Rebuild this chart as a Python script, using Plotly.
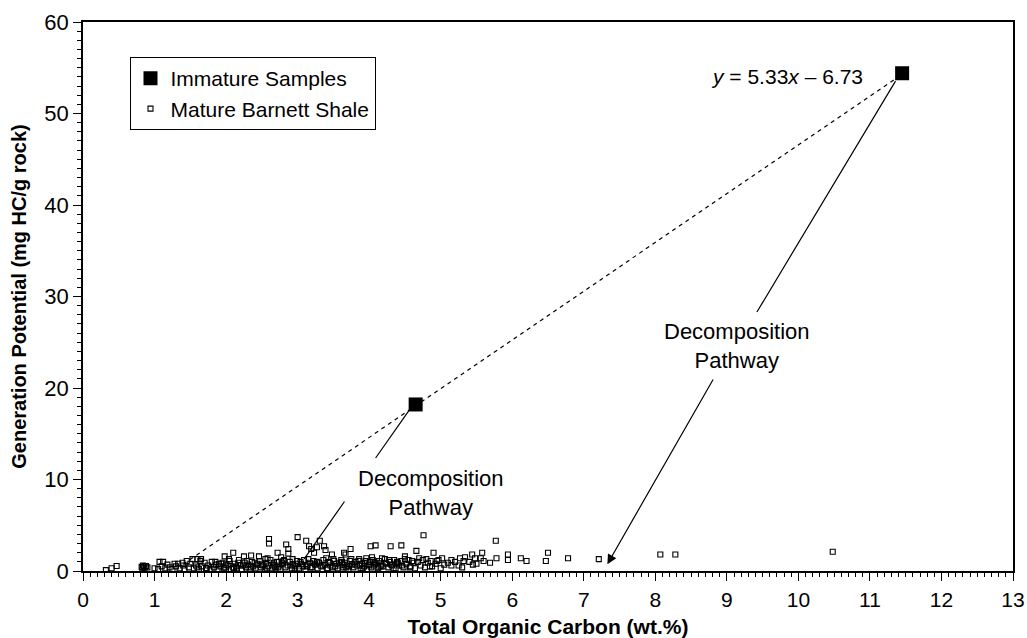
import plotly.graph_objects as go

# ---------------- data ----------------
immature_toc = [4.65, 11.45]
immature_gp = [18.2, 54.4]

mature_sparse_toc = [0.32, 0.40, 0.47, 0.82, 0.84, 0.86, 0.88, 0.85, 0.90, 0.83, 1.00, 1.07, 1.12, 1.21,
                     1.28, 1.33, 1.39, 1.45, 1.53, 1.60, 1.64, 1.65,
                     1.98, 2.10, 2.25, 2.35, 2.46, 2.58, 2.60, 2.60, 2.72, 2.77, 2.84, 2.87, 2.87, 3.00,
                     3.12, 3.16, 3.19, 3.23, 3.27, 3.31, 3.37, 3.39, 3.48, 3.65, 3.67, 3.74, 4.02, 4.09,
                     4.04, 4.30, 4.45, 4.50, 4.66, 4.76, 4.90, 5.02, 5.15, 5.27, 5.34, 5.32, 5.44, 5.48,
                     5.50, 5.56, 5.58, 5.69, 5.77, 5.78, 5.94, 5.94, 6.12, 6.20, 6.50, 6.47, 6.78, 7.21,
                     8.07, 8.28, 10.48]
mature_sparse_gp = [0.10, 0.30, 0.55, 0.45, 0.60, 0.35, 0.55, 0.50, 0.40, 0.30, 0.30, 1.00, 1.00, 0.40,
                    0.80, 0.80, 0.90, 1.10, 1.30, 1.30, 1.10, 1.30,
                    1.6, 2.0, 1.6, 1.7, 1.6, 1.4, 3.5, 3.0, 2.0, 1.5, 2.9, 2.4, 1.9, 3.7,
                    3.3, 2.7, 2.4, 2.0, 2.6, 3.3, 2.7, 2.3, 1.8, 2.0, 1.8, 2.4, 2.7, 2.8,
                    1.5, 2.7, 2.8, 1.6, 2.2, 3.9, 2.0, 1.4, 1.2, 1.4, 1.5, 1.1, 1.8, 1.4,
                    0.8, 1.4, 2.0, 0.9, 3.3, 1.4, 1.8, 1.2, 1.4, 1.1, 2.0, 1.1, 1.4, 1.3,
                    1.8, 1.8, 2.1]

mature_dense_toc = [1.05, 1.10, 1.15, 1.18, 1.25, 1.30, 1.35, 1.40, 1.42, 1.48, 1.50, 1.55, 1.58, 1.62,
                    1.66, 1.70, 1.72, 1.75, 1.78, 1.80, 1.83, 1.86, 1.88, 1.92, 1.95, 1.97, 2.02, 2.05,
                    2.07, 2.10, 2.12, 2.15, 2.18, 2.20, 2.22, 2.26, 2.28, 2.31, 2.33, 2.36, 2.38, 2.41,
                    2.44, 2.47, 2.49, 2.52, 2.54, 2.56, 2.59, 2.62, 2.64, 2.66, 2.69, 2.71, 2.74, 2.76,
                    2.79, 2.81, 2.83, 2.86, 2.89, 2.92, 2.94, 2.97, 2.99, 3.02, 3.05, 3.07, 3.09, 3.11,
                    3.14, 3.17, 3.20, 3.22, 3.25, 3.28, 3.30, 3.33, 3.36, 3.38, 3.41, 3.43, 3.46, 3.49,
                    3.51, 3.54, 3.56, 3.59, 3.61, 3.63, 3.66, 3.69, 3.71, 3.73, 3.76, 3.78, 3.81, 3.83,
                    3.86, 3.88, 3.90, 3.93, 3.95, 3.97, 3.99, 4.01, 4.03, 4.05, 4.07, 4.10, 4.12, 4.14,
                    4.17, 4.19, 4.22, 4.24, 4.27, 4.29, 4.32, 4.35, 4.37, 4.40, 4.42, 4.45, 4.48, 4.52,
                    4.55, 4.58, 4.62, 4.64, 4.68, 4.72, 4.75, 4.78, 4.82, 4.86, 4.88, 4.93, 4.97, 5.05,
                    5.10, 5.20, 5.25, 5.40, 5.60,
                    3.52, 3.58, 3.64, 3.72, 3.80, 3.87, 3.94, 4.00, 4.08, 4.16, 4.23, 4.31, 4.38, 4.46,
                    1.90, 2.00, 2.14, 2.24, 2.40, 2.50, 2.68, 2.78, 2.90, 3.00, 3.13, 3.24, 3.35, 3.45,
                    1.85, 1.93, 2.04, 2.17, 2.29, 2.43, 2.55, 2.67, 2.80, 2.93, 3.04, 3.15, 3.27, 3.40,
                    3.50, 3.62, 3.75, 3.85, 3.96, 4.06, 4.18, 4.28, 4.39, 4.50, 4.60, 4.70, 4.80, 4.95,
                    1.60, 1.73, 1.99, 2.11, 2.35, 2.57, 2.73, 2.96, 3.18, 3.42, 3.68, 3.91, 4.13, 4.34,
                    4.57, 4.85, 5.00, 5.15, 5.30, 5.45]
mature_dense_gp = [0.2, 0.5, 0.3, 0.7, 0.2, 0.5, 0.3, 0.6, 0.2, 0.4, 0.8, 0.3, 0.6, 0.2,
                   0.5, 0.9, 0.3, 0.6, 0.2, 1.0, 0.4, 0.7, 0.2, 0.5, 0.9, 0.3, 0.6, 1.1,
                   0.2, 0.4, 0.8, 0.3, 1.2, 0.6, 0.2, 0.9, 0.4, 0.7, 0.2, 1.0, 0.5, 0.3,
                   0.8, 1.1, 0.4, 0.6, 0.2, 0.9, 0.5, 1.2, 0.3, 0.7, 0.4, 1.0, 0.6, 0.2,
                   0.8, 1.2, 0.4, 0.6, 1.0, 0.3, 0.7, 0.5, 1.1, 0.3, 0.8, 0.5, 1.2, 0.2,
                   0.6, 0.9, 0.4, 1.1, 0.7, 0.3, 0.9, 0.5, 1.2, 0.7, 0.3, 1.0, 0.6, 0.4,
                   1.1, 0.8, 0.3, 0.6, 1.2, 0.4, 0.9, 0.6, 0.2, 1.1, 0.7, 0.4, 1.0, 0.6,
                   1.3, 0.3, 0.8, 0.5, 1.1, 0.2, 0.7, 1.0, 0.4, 1.2, 0.6, 0.9, 0.3, 1.1,
                   0.7, 0.5, 1.3, 0.8, 0.4, 1.0, 0.6, 1.2, 0.3, 0.9, 0.6, 1.1, 0.4, 0.8,
                   1.2, 0.5, 0.9, 0.3, 1.0, 0.6, 1.2, 0.4, 0.9, 1.1, 0.5, 0.8, 1.2, 0.7,
                   0.9, 1.0, 0.6, 1.0, 1.1,
                   0.5, 0.9, 0.7, 0.5, 0.8, 0.6, 0.9, 0.6, 0.8, 0.5, 0.9, 0.7, 0.8, 0.6,
                   0.8, 0.7, 0.5, 0.6, 0.9, 0.7, 0.5, 0.9, 0.6, 0.8, 0.5, 0.8, 0.6, 0.9,
                   1.0, 0.8, 1.3, 0.9, 1.1, 0.7, 1.3, 0.9, 1.1, 1.3, 1.0, 1.3, 1.0, 1.4,
                   1.3, 1.0, 1.3, 1.1, 1.4, 1.0, 1.4, 1.2, 1.0, 1.3, 1.1, 1.4, 1.3, 1.1,
                   0.4, 0.3, 0.4, 0.3, 0.4, 0.3, 0.4, 0.3, 0.4, 0.3, 0.4, 0.3, 0.4, 0.3,
                   0.4, 0.5, 0.3, 0.6, 0.4, 0.7]

mature_toc = mature_sparse_toc + mature_dense_toc
mature_gp = mature_sparse_gp + mature_dense_gp

fit_slope = 5.33
fit_intercept = -6.73
fit_x_range = [1.40, 11.45]

x_ticks = list(range(0, 14))
y_ticks = list(range(0, 61, 10))

# ---------------- figure ----------------
fig = go.Figure()

fit_x = fit_x_range
fit_y = [fit_slope * v + fit_intercept for v in fit_x]
fig.add_trace(go.Scatter(x=fit_x, y=fit_y, mode="lines", showlegend=False,
                         line=dict(color="black", width=1.2, dash="4px,4px"), hoverinfo="skip"))

fig.add_trace(go.Scatter(x=immature_toc, y=immature_gp, mode="markers", name="Immature Samples",
                         marker=dict(symbol="square", size=14, color="black",
                                     line=dict(color="black", width=0))))
fig.add_trace(go.Scatter(x=mature_toc, y=mature_gp, mode="markers", name="Mature Barnett Shale",
                         marker=dict(symbol="square-open", size=5, color="black",
                                     line=dict(color="black", width=1.1))))

def arrow(x0, y0, x1, y1, head):
    fig.add_annotation(x=x1, y=y1, ax=x0, ay=y0, xref="x", yref="y", axref="x", ayref="y",
                       text="", showarrow=True, arrowhead=head, arrowsize=1.6 if head else 1,
                       arrowwidth=1.2, arrowcolor="black", standoff=0, startstandoff=0)

# pathway 1
arrow(4.58, 17.8, 4.09, 12.35, 0)
arrow(3.67, 7.76, 3.09, 1.3, 0)
# pathway 2
arrow(11.37, 53.7, 9.42, 28.3, 0)
arrow(8.82, 21.1, 7.33, 0.75, 2)

FONT = "Liberation Sans, Arial, sans-serif"
text_font = dict(family=FONT, size=22, color="black")
fig.add_annotation(x=4.87, y=8.5, xref="x", yref="y", text="Decomposition<br>Pathway",
                   showarrow=False, font=text_font, align="center")
fig.add_annotation(x=9.14, y=24.6, xref="x", yref="y", text="Decomposition<br>Pathway",
                   showarrow=False, font=text_font, align="center")
fig.add_annotation(x=9.84, y=54.0, xref="x", yref="y",
                   text="<i>y</i> = 5.33<i>x</i> \u2013 6.73",
                   showarrow=False, font=dict(family=FONT, size=21, color="black"))

fig.update_layout(
    width=1027, height=638,
    margin=dict(l=83, r=14, t=22, b=67),
    paper_bgcolor="white", plot_bgcolor="white",
    font=dict(family=FONT, color="black"),
    showlegend=True,
    legend=dict(x=0.05, y=0.936, xanchor="left", yanchor="top",
                bordercolor="black", borderwidth=1, bgcolor="white",
                font=dict(size=21, family=FONT),
                itemsizing="trace", tracegroupgap=0, itemwidth=30),
    xaxis=dict(range=[0, 13], tickvals=x_ticks, ticktext=[str(v) for v in x_ticks],
               automargin=False, ticklabeloverflow="allow",
               showgrid=False, zeroline=False, showline=True, linecolor="black", linewidth=1.5,
               mirror=True, ticks="outside", ticklen=8, tickwidth=1, tickcolor="black",
               ticklabelstandoff=1,
               minor=dict(dtick=0.1, ticks="outside", ticklen=4, tickwidth=1, tickcolor="black"),
               tickfont=dict(size=21, family=FONT),
               title=dict(text="<b>Total Organic Carbon (wt.%)</b>", standoff=9,
                          font=dict(size=21, family=FONT))),
    yaxis=dict(range=[0, 60], tickvals=y_ticks, ticktext=[str(v) for v in y_ticks],
               automargin=False,
               showgrid=False, zeroline=False, showline=True, linecolor="black", linewidth=1.5,
               mirror=True, ticks="outside", ticklen=8, tickwidth=1, tickcolor="black",
               minor=dict(dtick=1, ticks="outside", ticklen=4, tickwidth=1, tickcolor="black"),
               tickfont=dict(size=22, family=FONT),
               title=dict(text="<b>Generation Potential (mg HC/g rock)</b>", standoff=12,
                          font=dict(size=20, family=FONT))),
)

fig.write_html("out.html", config={"displayModeBar": False},
               post_script="document.body.style.margin='0px';")
